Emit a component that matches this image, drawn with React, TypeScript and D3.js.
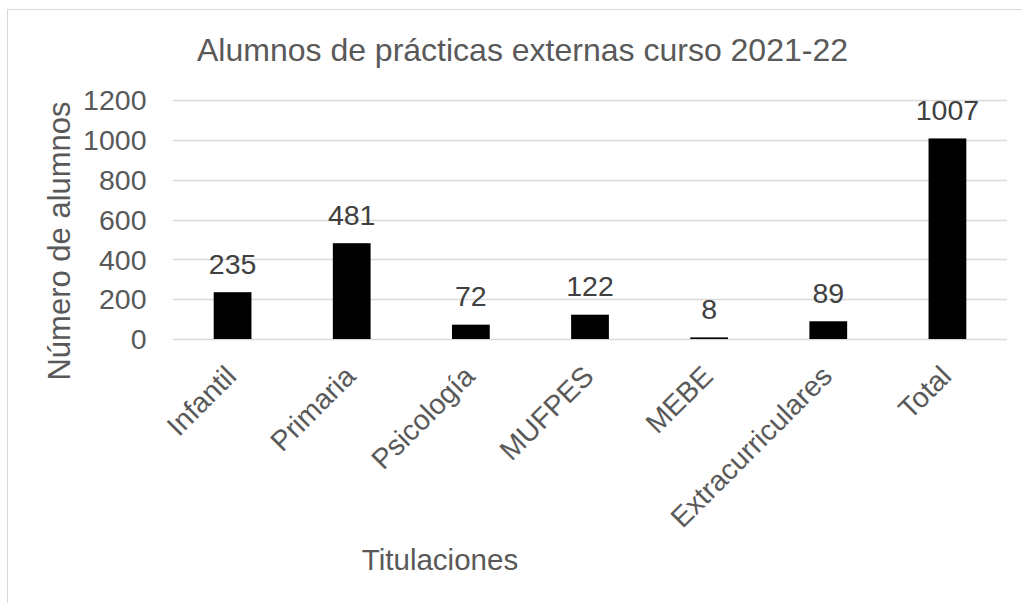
import React from "react";
import * as d3 from "d3";

const categories = ["Infantil", "Primaria", "Psicología", "MUFPES", "MEBE", "Extracurriculares", "Total"];
const values = [235, 481, 72, 122, 8, 89, 1007];
const yTicks = [0, 200, 400, 600, 800, 1000, 1200];
const title = "Alumnos de prácticas externas curso 2021-22";
const yTitle = "Número de alumnos";
const xTitle = "Titulaciones";

const W = 1022;
const H = 603;
const FONT = "'Liberation Sans', Arial, sans-serif";

export default function App() {
  const x = d3.scaleBand<string>().domain(categories).range([173, 1007]).paddingInner(0.683).paddingOuter(0.3415);
  const y = d3.scaleLinear().domain([0, 1200]).range([339, 100]);
  const bw = x.bandwidth();

  return (
    <svg width={W} height={H} style={{ position: "absolute", left: 0, top: 0, background: "#fff" }} fontFamily={FONT}>
      <rect x={7.5} y={9.5} width={W + 20} height={H + 20} fill="#fff" stroke="#d9d9d9" strokeWidth={1} />
      <text x={522.5} y={60.5} textAnchor="middle" fontSize={32} fill="#595959">{title}</text>
      {yTicks.map((t) => (
        <g key={t}>
          <line x1={173} x2={1007} y1={Math.round(y(t)) + 0.5} y2={Math.round(y(t)) + 0.5} stroke="#d9d9d9" strokeWidth={1.3} />
          <text x={146.5} y={y(t)} dy="0.36em" textAnchor="end" fontSize={28.5} fill="#595959">{t}</text>
        </g>
      ))}
      {categories.map((c, i) => {
        const v = values[i];
        const x0 = x(c)!;
        const cx = x0 + bw / 2;
        return (
          <g key={c}>
            <rect x={x0} y={y(v)} width={bw} height={y(0) - y(v)} fill="#000" />
            <text x={cx} y={y(v) - 18.5} textAnchor="middle" fontSize={28.5} fill="#404040">{v}</text>
            <text
              transform={`translate(${cx + 5.5},${y(0) + 39}) rotate(-45)`}
              textAnchor="end"
              fontSize={28.5}
              fill="#595959"
            >
              {c}
            </text>
          </g>
        );
      })}
      <text transform={`translate(70,241) rotate(-90)`} textAnchor="middle" fontSize={31} fill="#595959">{yTitle}</text>
      <text x={440} y={570} textAnchor="middle" fontSize={29.5} fill="#595959">{xTitle}</text>
    </svg>
  );
}
